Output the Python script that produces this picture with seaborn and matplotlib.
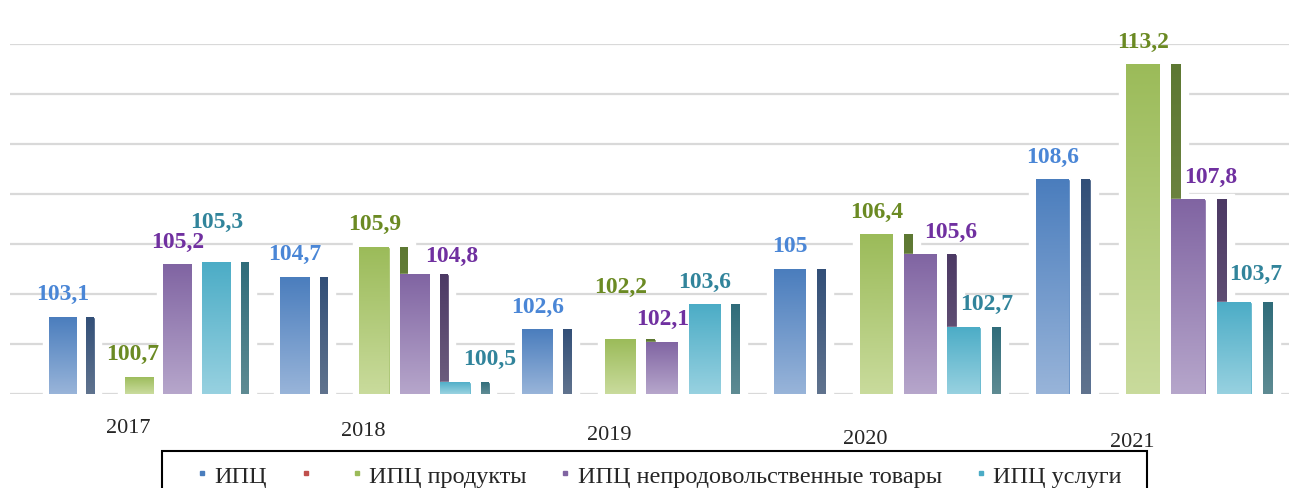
import numpy as np
import pandas as pd
import matplotlib
matplotlib.use('Agg')
import matplotlib.pyplot as plt
import matplotlib.transforms as mtransforms
import matplotlib.patches as mpatches
from matplotlib.colors import LinearSegmentedColormap
from matplotlib.lines import Line2D
import seaborn as sns

# ---------------- data ----------------
years = ['2017', '2018', '2019', '2020', '2021']
series = ['ИПЦ', '', 'ИПЦ продукты', 'ИПЦ непродовольственные товары', 'ИПЦ услуги']
cpi = [103.1, 104.7, 102.6, 105.0, 108.6]
food = [100.7, 105.9, 102.2, 106.4, 113.2]
nonfood = [105.2, 104.8, 102.1, 105.6, 107.8]
services = [105.3, 100.5, 103.6, 102.7, 103.7]

values = {series[0]: cpi, series[2]: food, series[3]: nonfood, series[4]: services}
rows = [(y, s, v[i]) for s, v in values.items() for i, y in enumerate(years)]
df = pd.DataFrame(rows, columns=['year', 'series', 'value'])

# ---------------- styles ----------------
front_top = {series[0]: '#4a7dbd', series[1]: '#c0504d', series[2]: '#9bbb59',
             series[3]: '#8064a2', series[4]: '#4bacc6'}
front_bot = {series[0]: '#98b4d9', series[2]: '#c9db9c', series[3]: '#b6a6cb', series[4]: '#97d1e0'}
side_top = {series[0]: '#324f78', series[2]: '#5d7832', series[3]: '#4c3964', series[4]: '#2f6c7a'}
side_bot = {series[0]: '#60738e', series[2]: '#7d9152', series[3]: '#6f6080', series[4]: '#5e8b93'}
label_col = {series[0]: '#4a86d6', series[2]: '#6b8a23', series[3]: '#7030a0', series[4]: '#31849b'}
# label nudges (pixels) where the reference moved labels to avoid collisions
nudge_px = {(0, 2): (-6, 0), (0, 4): (0, 17), (1, 3): (37, -4), (1, 4): (34, 0),
            (2, 2): (0, 30), (3, 3): (30, 0), (3, 4): (22, 0), (4, 3): (22, 0),
            (4, 4): (22, 5)}

sns.set_style('white')
plt.rcParams['font.family'] = ['Liberation Serif', 'DejaVu Serif']

W, H = 1289, 489
fig = plt.figure(figsize=(W / 100, H / 100), dpi=100)
ax = fig.add_axes([10 / W, 1 - 395 / H, 1 - 10 / W, 350 / H])

sns.barplot(data=df, x='year', y='value', hue='series', hue_order=series, order=years,
            palette=front_top, width=5 / 6, gap=0.24, errorbar=None, legend=False,
            saturation=1, ax=ax, zorder=2)

# slight perspective widening to the right (as in the 3-D original)
K = 0.02245


def fwd(x):
    x = np.asarray(x, float)
    return x + K * x * x


def inv(y):
    y = np.asarray(y, float)
    return (-1 + np.sqrt(np.maximum(1 + 4 * K * y, 0))) / (2 * K)


ax.set_xscale('function', functions=(fwd, inv))

YMIN, YMAX = 100, 114
slot = (5 / 6) / 5


def gradient(x0, x1, y0, y1, ctop, cbot, z, clip=None):
    cmap = LinearSegmentedColormap.from_list('g', [cbot, ctop])
    grad = np.linspace(0, 1, 256).reshape(-1, 1)
    im = ax.imshow(grad, extent=[x0, x1, y0, y1], origin='lower', cmap=cmap,
                   aspect='auto', zorder=z, interpolation='bilinear')
    if clip is not None:
        im.set_clip_path(clip)


for p in list(ax.patches):
    h = p.get_height()
    if not np.isfinite(h) or h <= 0:
        continue
    x0 = p.get_x()
    w = p.get_width()
    cx = x0 + w / 2
    gi = int(round(cx))
    si = int(round((cx - gi) / slot + 2))
    s = series[si]
    sx = x0 + slot
    sw = slot * 0.22
    # white depth block hiding the back-wall grid around the column
    ax.bar(x0 - 0.16 * slot, h + 0.2, width=sx + sw - x0 + 0.32 * slot, align='edge',
           color='white', zorder=1.2)
    # front gradient
    gradient(x0, x0 + w, YMIN, h, front_top[s], front_bot[s], 2.1, clip=p)
    # dark side strip (pseudo-3D)
    sb = ax.bar(sx, h, width=sw, align='edge', color=side_top[s], zorder=1.5)
    gradient(sx, sx + sw, YMIN, h, side_top[s], side_bot[s], 1.6, clip=sb.patches[0])
    # value label
    dx, dy = nudge_px.get((gi, si), (0, 0))
    txt = f"{h:g}".replace('.', ',')
    ax.annotate(txt, xy=(cx, h), xytext=(dx * 0.72, 9 + dy * 0.72),
                textcoords='offset points', ha='center', va='bottom',
                fontsize=17, fontweight='bold', color=label_col[s],
                annotation_clip=False, zorder=5)

ax.set_xlim(-0.568, 4.532)
ax.set_ylim(YMIN, YMAX)
ax.set_xticks(range(len(years)))
ax.set_xticklabels(years)
ax.set_yticks(np.arange(100, 115, 2))
ax.yaxis.grid(True, color='#d9d9d9', lw=1.6)
ax.xaxis.grid(False)
ax.set_axisbelow(True)
ax.tick_params(axis='y', left=False, labelleft=False)
ax.tick_params(axis='x', length=0, pad=17, labelsize=16, bottom=False)
ax.minorticks_off()
ax.set_xlabel('')
ax.set_ylabel('')
for sp in ax.spines.values():
    sp.set_visible(False)

for i, lab in enumerate(ax.get_xticklabels()):
    off = mtransforms.ScaledTranslation(-0.11, -0.037 * i, fig.dpi_scale_trans)
    lab.set_transform(lab.get_transform() + off)

handles = [Line2D([], [], marker='s', linestyle='none', markersize=2.2,
                  markerfacecolor=front_top[s], markeredgecolor=front_top[s]) for s in series]
leg = fig.legend(handles, series, loc='upper center', bbox_to_anchor=(660 / W, 1 - 456 / H),
                 ncol=5, frameon=False,
                 prop={'family': 'Liberation Serif', 'size': 17.5},
                 handlelength=0.3, handletextpad=0.35, columnspacing=1.45,
                 borderpad=0.4, borderaxespad=0)
frame = mpatches.Rectangle((162 / W, -0.2), 985 / W, 0.2 + 1 - 452 / H,
                           transform=fig.transFigure, fill=False, edgecolor='black', lw=1.5)
fig.add_artist(frame)

fig.savefig('out.png', dpi=100)
